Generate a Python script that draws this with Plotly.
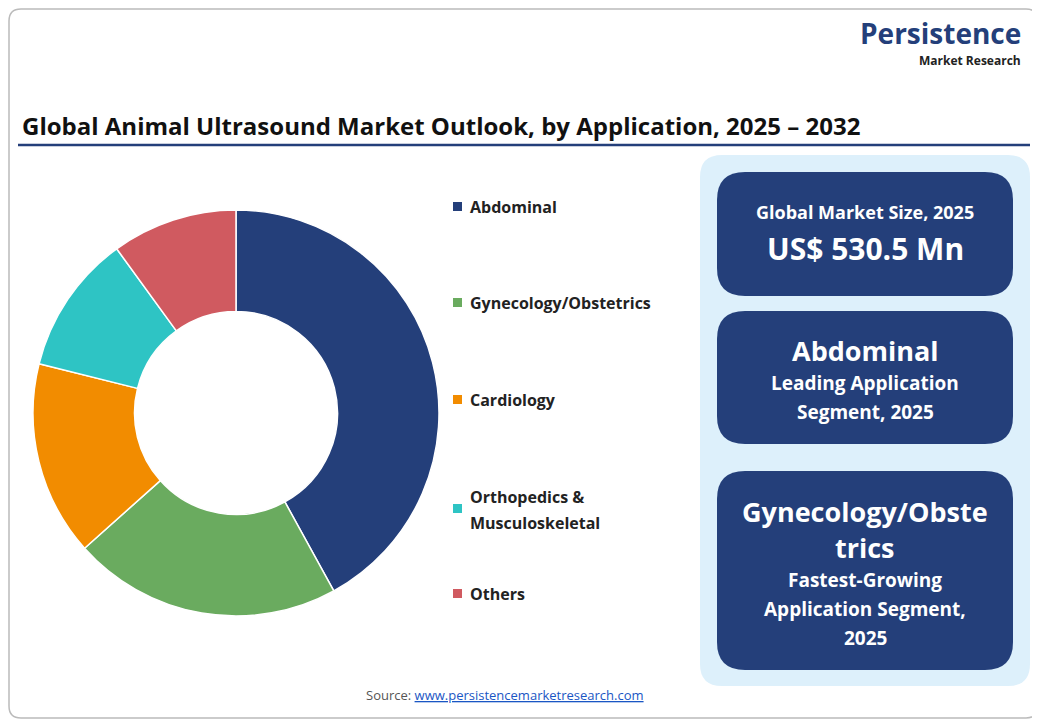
import plotly.graph_objects as go

categories = ["Abdominal", "Gynecology/Obstetrics", "Cardiology", "Orthopedics &<br>Musculoskeletal", "Others"]
shares = [42.0, 21.4, 15.5, 11.1, 10.0]
colors = ["#243F7A", "#6AAB5F", "#F28C00", "#2EC4C4", "#D05A60"]
legend_y = [207, 303, 400, 509, 594]

OFF = 8  # page body margin
W, H = 1032, 712
def X(x): return x - OFF
def Y(y): return H - (y - OFF)

fig = go.Figure(go.Pie(
    labels=categories, values=shares, hole=0.5, sort=False, direction="clockwise",
    rotation=0, marker=dict(colors=colors, line=dict(color="white", width=1.5)),
    textinfo="none", hoverinfo="label+percent", showlegend=False,
    domain=dict(x=[X(33)/W, X(439)/W], y=[Y(616)/H, Y(210)/H])))

def rrect(x0, y0, x1, y1, r):
    x0, x1 = X(x0), X(x1)
    y0, y1 = Y(y0), Y(y1)
    return (f"M{x0+r},{y0} L{x1-r},{y0} Q{x1},{y0} {x1},{y0-r} L{x1},{y1+r} Q{x1},{y1} {x1-r},{y1} "
            f"L{x0+r},{y1} Q{x0},{y1} {x0},{y1+r} L{x0},{y0-r} Q{x0},{y0} {x0+r},{y0} Z")

shapes = [
    dict(type="path", path=rrect(9, 9, 1038, 718, 12), line=dict(color="#BBBBBB", width=1.5), fillcolor="rgba(0,0,0,0)"),
    dict(type="line", x0=X(18), x1=X(1030), y0=Y(145), y1=Y(145), line=dict(color="#243F7A", width=2.5)),
    dict(type="path", path=rrect(700, 155, 1030, 686, 22), line=dict(width=0), fillcolor="#DDF0FB"),
]
for (a, b) in [(172, 296), (311, 444), (471, 670)]:
    shapes.append(dict(type="path", path=rrect(717, a, 1013, b, 28), line=dict(width=0), fillcolor="#243F7A"))

ann = []
F = "Open Sans, Arial"
def t(x, y, s, size, color="#222", bold=True, xa="left"):
    ann.append(dict(x=X(x), y=Y(y), xref="x", yref="y", text=(f"<b>{s}</b>" if bold else s), showarrow=False,
                    xanchor=xa, yanchor="middle", font=dict(family=F, size=size, color=color)))

for c, col, y in zip(categories, colors, legend_y):
    shapes.append(dict(type="rect", x0=X(453), x1=X(462), y0=Y(y+4), y1=Y(y-5), fillcolor=col, line=dict(width=0)))
    lines = c.split("<br>")
    if len(lines) == 1:
        t(468, y, c, 16)
    else:
        t(468, y - 12, lines[0], 16); t(468, y + 14, lines[1], 16)

t(20, 125, "Global Animal Ultrasound Market Outlook, by Application, 2025 – 2032", 24, "#111")
t(1023, 33, "Persistence", 28, "#243F7A", xa="right")
t(1023, 60, "Market Research", 12, "#222", xa="right")
t(865, 212, "Global Market Size, 2025", 18, "white", xa="center")
t(865, 248, "US$ 530.5 Mn", 30, "white", xa="center")
t(865, 350, "Abdominal", 27, "white", xa="center")
t(865, 383, "Leading Application", 19, "white", xa="center")
t(865, 412, "Segment, 2025", 19, "white", xa="center")
t(865, 511, "Gynecology/Obste", 27, "white", xa="center")
t(865, 547, "trics", 27, "white", xa="center")
t(865, 580, "Fastest-Growing", 19, "white", xa="center")
t(865, 609, "Application Segment,", 19, "white", xa="center")
t(865, 638, "2025", 19, "white", xa="center")
ann.append(dict(x=X(505), y=Y(695), xref="x", yref="y", showarrow=False, xanchor="center", yanchor="middle",
                text='Source: <span style="color:#1a56c4"><u>www.persistencemarketresearch.com</u></span>',
                font=dict(family=F, size=13, color="#555")))

fig.update_layout(width=W, height=H, margin=dict(l=0, r=0, t=0, b=0), paper_bgcolor="white",
                  plot_bgcolor="rgba(0,0,0,0)", shapes=shapes, annotations=ann,
                  xaxis=dict(range=[0, W], visible=False, fixedrange=True),
                  yaxis=dict(range=[0, H], visible=False, fixedrange=True))
fig.write_html("out.html")
